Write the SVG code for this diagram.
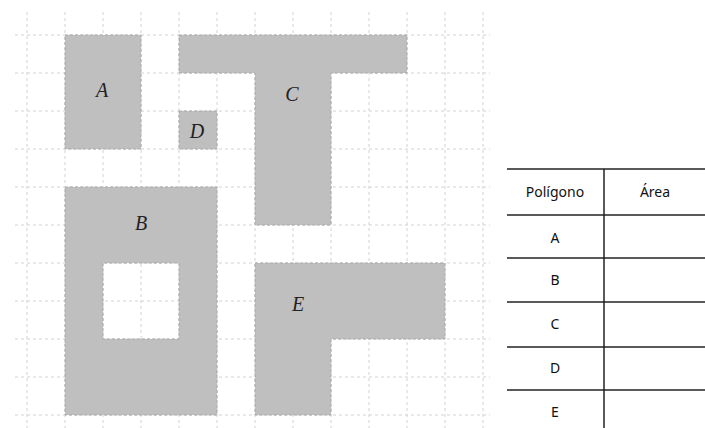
<svg xmlns="http://www.w3.org/2000/svg" width="705" height="428" viewBox="0 0 705 428">
<style>
.grid line{stroke:#d2d2d2;stroke-width:1;stroke-dasharray:3 3}
.shape{fill:#bfbfbf;stroke:#a8a8a8;stroke-width:1;stroke-dasharray:3 2}
.lbl{font-family:"Liberation Serif",serif;font-style:italic;font-size:20px;fill:#222;text-anchor:middle}
.tl{stroke:#222;stroke-width:1.5}
.tt{font-family:"Noto Sans","Liberation Sans",sans-serif;font-size:14px;fill:#111;text-anchor:middle}
</style>
<rect width="705" height="428" fill="#fff"/>
<g class="grid">
<line x1="27" y1="12" x2="27" y2="428"/><line x1="65" y1="12" x2="65" y2="428"/><line x1="103" y1="12" x2="103" y2="428"/><line x1="141" y1="12" x2="141" y2="428"/><line x1="179" y1="12" x2="179" y2="428"/><line x1="217" y1="12" x2="217" y2="428"/><line x1="255" y1="12" x2="255" y2="428"/><line x1="293" y1="12" x2="293" y2="428"/><line x1="331" y1="12" x2="331" y2="428"/><line x1="369" y1="12" x2="369" y2="428"/><line x1="407" y1="12" x2="407" y2="428"/><line x1="445" y1="12" x2="445" y2="428"/><line x1="483" y1="12" x2="483" y2="428"/>
<line x1="15" y1="35" x2="490" y2="35"/><line x1="15" y1="73" x2="490" y2="73"/><line x1="15" y1="111" x2="490" y2="111"/><line x1="15" y1="149" x2="490" y2="149"/><line x1="15" y1="187" x2="490" y2="187"/><line x1="15" y1="225" x2="490" y2="225"/><line x1="15" y1="263" x2="490" y2="263"/><line x1="15" y1="301" x2="490" y2="301"/><line x1="15" y1="339" x2="490" y2="339"/><line x1="15" y1="377" x2="490" y2="377"/><line x1="15" y1="415" x2="490" y2="415"/>
</g>
<g id="A"><rect class="shape" x="65" y="35" width="76" height="114"/><text class="lbl" x="102" y="97">A</text></g>
<g id="D"><rect class="shape" x="179" y="111" width="38" height="38"/><text class="lbl" x="197" y="138">D</text></g>
<g id="C"><path class="shape" d="M179 35H407V73H331V225H255V73H179Z"/><text class="lbl" x="292" y="101">C</text></g>
<g id="B"><path class="shape" fill-rule="evenodd" d="M65 187H217V415H65Z M103 263V339H179V263Z"/><text class="lbl" x="141" y="230">B</text></g>
<g id="E"><path class="shape" d="M255 263H445V339H331V415H255Z"/><text class="lbl" x="298" y="311">E</text></g>
<g id="table">
<line class="tl" x1="507" y1="169" x2="705" y2="169"/>
<line class="tl" x1="507" y1="215" x2="705" y2="215"/>
<line class="tl" x1="507" y1="258" x2="705" y2="258"/>
<line class="tl" x1="507" y1="302" x2="705" y2="302"/>
<line class="tl" x1="507" y1="347" x2="705" y2="347"/>
<line class="tl" x1="507" y1="390" x2="705" y2="390"/>
<line class="tl" x1="604" y1="169" x2="604" y2="428"/>
<text class="tt" x="555" y="197">Polígono</text>
<text class="tt" x="655" y="197">Área</text>
<text class="tt" x="555" y="243">A</text>
<text class="tt" x="555" y="285">B</text>
<text class="tt" x="555" y="329">C</text>
<text class="tt" x="555" y="373">D</text>
<text class="tt" x="555" y="417">E</text>
</g>
</svg>
